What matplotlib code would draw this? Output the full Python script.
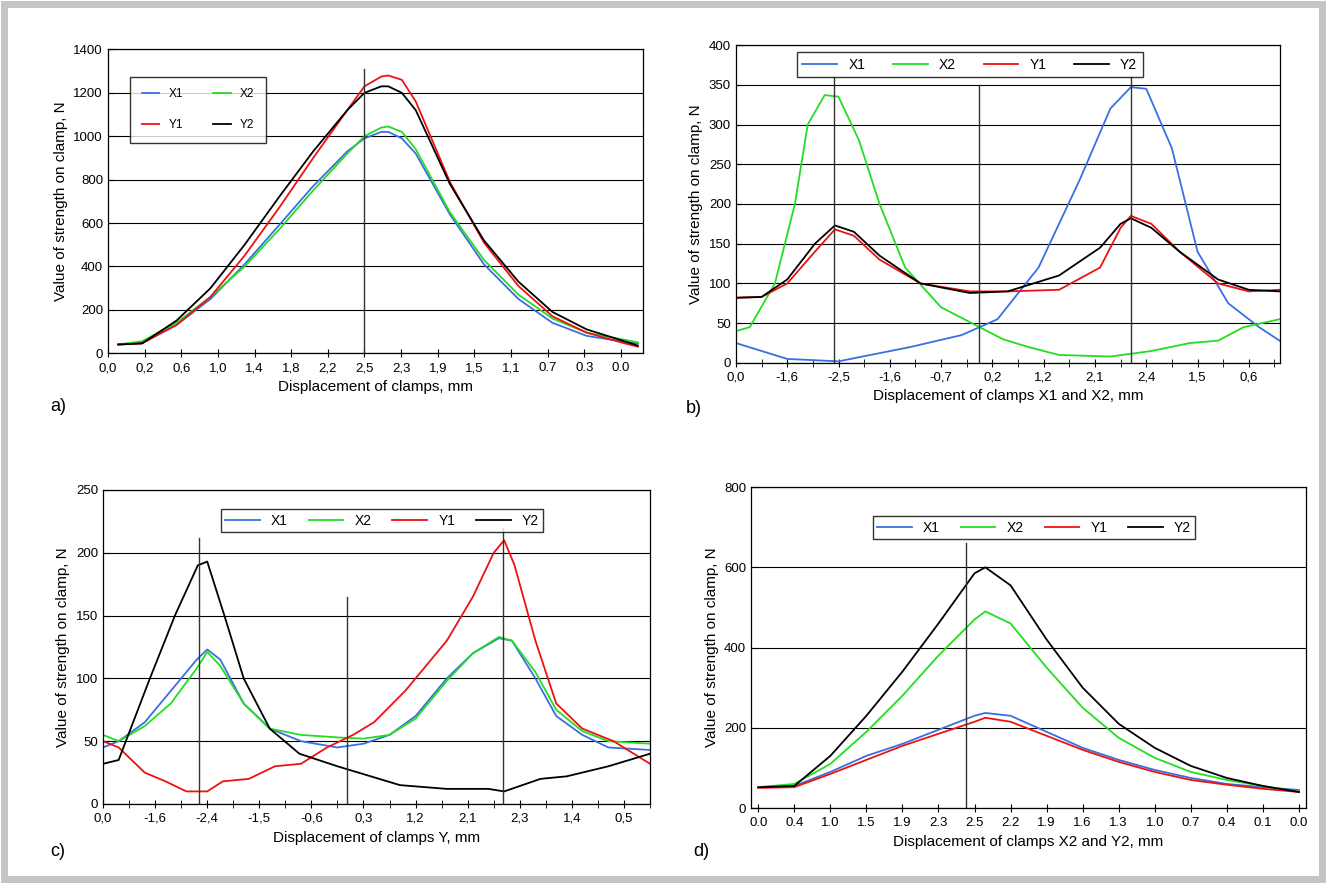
import matplotlib.pyplot as plt
from matplotlib.patches import Rectangle
from matplotlib.ticker import MultipleLocator

plt.rcParams['font.family'] = ['Liberation Sans', 'DejaVu Sans']

COL = {'X1': '#3a6fe0', 'X2': '#22dd22', 'Y1': '#ee1111', 'Y2': '#000000'}

# ---- panel a
a_labels = ['0,0', '0,2', '0,6', '1,0', '1,4', '1,8', '2,2', '2,5', '2,3', '1,9',
            '1,5', '1,1', '0.7', '0.3', '0.0']
a_x = [0.28, 0.93, 1.87, 2.8, 3.73, 4.67, 5.6, 6.53, 7.0, 7.46, 7.65, 8.02, 8.4,
       9.33, 10.26, 11.2, 12.13, 13.06, 14.0, 14.46]
a_Y2 = [40, 45, 150, 300, 500, 720, 930, 1120, 1200, 1230, 1230, 1200, 1120, 780, 520, 330, 190, 110, 60, 35]
a_Y1 = [40, 45, 130, 260, 450, 670, 900, 1120, 1230, 1275, 1280, 1260, 1160, 790, 510, 310, 170, 95, 50, 30]
a_X1 = [40, 50, 130, 250, 410, 590, 770, 930, 990, 1020, 1020, 990, 920, 640, 410, 250, 140, 80, 55, 45]
a_X2 = [40, 55, 140, 260, 400, 570, 750, 920, 1000, 1040, 1045, 1020, 940, 650, 430, 270, 160, 95, 65, 50]
a_vlines = [(7.0, 1310)]

# ---- panel b
b_labels = ['0,0', '-1,6', '-2,5', '-1,6', '-0,7', '0,2', '1,2', '2,1', '2,4', '1,5', '0,6']
b_X1x = [0, 1.0, 2.0, 3.4, 4.4, 5.1, 5.9, 6.7, 7.3, 7.7, 8.0, 8.5, 9.0, 9.6, 10.2, 10.6]
b_X1 = [25, 5, 2, 20, 35, 55, 120, 230, 320, 347, 345, 270, 140, 75, 45, 28]
b_X2x = [0, 0.27, 0.76, 1.15, 1.4, 1.73, 2.0, 2.4, 2.8, 3.3, 4.0, 4.75, 5.2, 5.7, 6.3, 7.3, 8.1, 8.85, 9.4, 9.9, 10.6]
b_X2 = [40, 45, 100, 200, 300, 337, 335, 280, 200, 120, 70, 45, 30, 20, 10, 8, 15, 25, 28, 45, 55]
b_Yx = [0, 0.5, 1.0, 1.54, 1.93, 2.3, 2.8, 3.6, 4.56, 5.3, 6.3, 7.1, 7.5, 7.7, 8.1, 8.65, 9.4, 10.0, 10.6]
b_Y1 = [82, 83, 100, 140, 168, 160, 130, 100, 90, 90, 92, 120, 170, 185, 175, 140, 100, 90, 92]
b_Y2 = [82, 83, 105, 150, 173, 165, 135, 100, 88, 90, 110, 145, 175, 182, 170, 140, 105, 92, 90]
b_vlines = [(1.91, 360), (4.74, 350), (7.7, 360)]

# ---- panel c
c_labels = ['0,0', '-1,6', '-2,4', '-1,5', '-0,6', '0,3', '1,2', '2,1', '2,3', '1,4', '0,5']
c_Y2x = [0, 0.3, 0.9, 1.38, 1.82, 2.0, 2.33, 2.7, 3.2, 3.77, 4.5, 4.9, 5.7, 6.6, 7.4, 7.7, 8.4, 8.9, 9.7, 10.5]
c_Y2 = [32, 35, 100, 150, 190, 193, 150, 100, 60, 40, 30, 25, 15, 12, 12, 10, 20, 22, 30, 40]
c_Y1x = [0, 0.3, 0.8, 1.2, 1.6, 2.0, 2.3, 2.8, 3.3, 3.8, 4.3, 4.8, 5.2, 5.8, 6.6, 7.1, 7.5, 7.7, 7.9, 8.3, 8.7, 9.2, 9.8, 10.5]
c_Y1 = [50, 45, 25, 18, 10, 10, 18, 20, 30, 32, 45, 55, 65, 90, 130, 165, 200, 210, 190, 130, 80, 60, 50, 32]
c_Xx = [0, 0.3, 0.8, 1.3, 1.8, 2.0, 2.25, 2.7, 3.2, 3.8, 4.5, 5.0, 5.5, 6.0, 6.6, 7.1, 7.6, 7.85, 8.3, 8.7, 9.2, 9.7, 10.5]
c_X1 = [45, 50, 65, 90, 115, 123, 115, 80, 60, 50, 45, 48, 55, 70, 100, 120, 132, 130, 100, 70, 55, 45, 43]
c_X2 = [55, 50, 62, 80, 108, 121, 110, 80, 60, 55, 53, 52, 55, 68, 98, 120, 133, 130, 105, 75, 58, 50, 48]
c_vlines = [(1.84, 212), (4.68, 165), (7.68, 220)]

# ---- panel d
d_labels = ['0.0', '0.4', '1.0', '1.5', '1.9', '2.3', '2.5', '2.2', '1.9', '1.6',
            '1.3', '1.0', '0.7', '0.4', '0.1', '0.0']
d_x = [0, 1, 2, 3, 4, 5, 6, 6.3, 7, 8, 9, 10, 11, 12, 13, 14, 15]
d_Y2 = [52, 55, 130, 230, 340, 460, 585, 600, 555, 420, 300, 210, 150, 105, 75, 55, 40]
d_X2 = [52, 60, 110, 190, 280, 380, 470, 490, 460, 350, 250, 175, 125, 90, 70, 55, 40]
d_X1 = [52, 55, 90, 130, 160, 195, 230, 237, 230, 190, 150, 120, 95, 75, 60, 52, 45]
d_Y1 = [50, 52, 85, 120, 155, 185, 215, 225, 215, 180, 145, 115, 90, 70, 58, 48, 40]
d_vlines = [(5.77, 660)]

fig = plt.figure(figsize=(13.26, 8.83), dpi=100)
fig.patches.append(Rectangle((0.003, 0.004), 0.994, 0.992, transform=fig.transFigure,
                             fill=False, edgecolor='#c4c4c4', linewidth=5))


def setup(ax, labels, ymax, ystep, xmax, xlabel, minor=None):
    ax.set_xlim(0, xmax)
    ax.set_ylim(0, ymax)
    ax.set_xticks(range(len(labels)))
    ax.set_xticklabels(labels, fontsize=9.5)
    if minor:
        ax.xaxis.set_minor_locator(MultipleLocator(minor))
    ax.yaxis.set_major_locator(MultipleLocator(ystep))
    ax.tick_params(axis='y', labelsize=9.5, direction='in', length=4)
    ax.tick_params(axis='x', which='both', direction='inout', length=6)
    ax.grid(axis='y', color='black', linewidth=0.8)
    ax.set_axisbelow(True)
    ax.set_xlabel(xlabel, fontsize=11)
    ax.set_ylabel('Value of strength on clamp, N', fontsize=11)
    for s in ax.spines.values():
        s.set_linewidth(0.9)


def vl(ax, lines):
    for x, h in lines:
        ax.plot([x, x], [0, h], color='#333333', linewidth=1)


# a
ax = fig.add_axes([0.0814, 0.600, 0.4035, 0.344])
l1, = ax.plot(a_x, a_X1, color=COL['X1'], lw=1.3, label='X1')
l2, = ax.plot(a_x, a_X2, color=COL['X2'], lw=1.3, label='X2')
l3, = ax.plot(a_x, a_Y1, color=COL['Y1'], lw=1.3, label='Y1')
l4, = ax.plot(a_x, a_Y2, color=COL['Y2'], lw=1.3, label='Y2')
vl(ax, a_vlines)
setup(ax, a_labels, 1400, 200, 14.6, 'Displacement of clamps, mm')
ax.legend(handles=[l1, l3, l2, l4], loc='upper left', bbox_to_anchor=(0.03, 0.93), ncol=2,
          fontsize=8.5, fancybox=False, edgecolor='black', handlelength=1.5,
          columnspacing=2.5, labelspacing=1.6, borderpad=1.0)

# b
ax = fig.add_axes([0.555, 0.589, 0.410, 0.360])
ax.plot(b_X1x, b_X1, color=COL['X1'], lw=1.3, label='X1')
ax.plot(b_X2x, b_X2, color=COL['X2'], lw=1.3, label='X2')
ax.plot(b_Yx, b_Y1, color=COL['Y1'], lw=1.3, label='Y1')
ax.plot(b_Yx, b_Y2, color=COL['Y2'], lw=1.3, label='Y2')
vl(ax, b_vlines)
setup(ax, b_labels, 400, 50, 10.6, 'Displacement of clamps X1 and X2, mm', minor=0.5)
ax.legend(loc='upper center', bbox_to_anchor=(0.43, 1.0), ncol=4, fontsize=10,
          fancybox=False, edgecolor='black', handlelength=2.5, columnspacing=2.0)

# c
ax = fig.add_axes([0.0777, 0.0895, 0.4125, 0.3556])
ax.plot(c_Xx, c_X1, color=COL['X1'], lw=1.3, label='X1')
ax.plot(c_Xx, c_X2, color=COL['X2'], lw=1.3, label='X2')
ax.plot(c_Y1x, c_Y1, color=COL['Y1'], lw=1.3, label='Y1')
ax.plot(c_Y2x, c_Y2, color=COL['Y2'], lw=1.3, label='Y2')
vl(ax, c_vlines)
setup(ax, c_labels, 250, 50, 10.5, 'Displacement of clamps Y, mm', minor=0.5)
ax.legend(loc='upper center', bbox_to_anchor=(0.51, 0.96), ncol=4, fontsize=10,
          fancybox=False, edgecolor='black', handlelength=2.5, columnspacing=1.5,
          borderpad=0.3)

# d
ax = fig.add_axes([0.5664, 0.0849, 0.4186, 0.3635])
ax.plot(d_x, d_X1, color=COL['X1'], lw=1.3, label='X1')
ax.plot(d_x, d_X2, color=COL['X2'], lw=1.3, label='X2')
ax.plot(d_x, d_Y1, color=COL['Y1'], lw=1.3, label='Y1')
ax.plot(d_x, d_Y2, color=COL['Y2'], lw=1.3, label='Y2')
vl(ax, d_vlines)
setup(ax, d_labels, 800, 200, 15.2, 'Displacement of clamps X2 and Y2, mm')
ax.set_xlim(-0.2, 15.2)
ax.legend(loc='upper center', bbox_to_anchor=(0.51, 0.93), ncol=4, fontsize=10,
          fancybox=False, edgecolor='black', handlelength=2.5, columnspacing=1.5,
          borderpad=0.3)

for txt, x, y in [('a)', 0.038, 0.535), ('b)', 0.517, 0.532), ('c)', 0.038, 0.031), ('d)', 0.523, 0.031)]:
    fig.text(x, y, txt, fontsize=13)

fig.savefig('out.png', dpi=100)
